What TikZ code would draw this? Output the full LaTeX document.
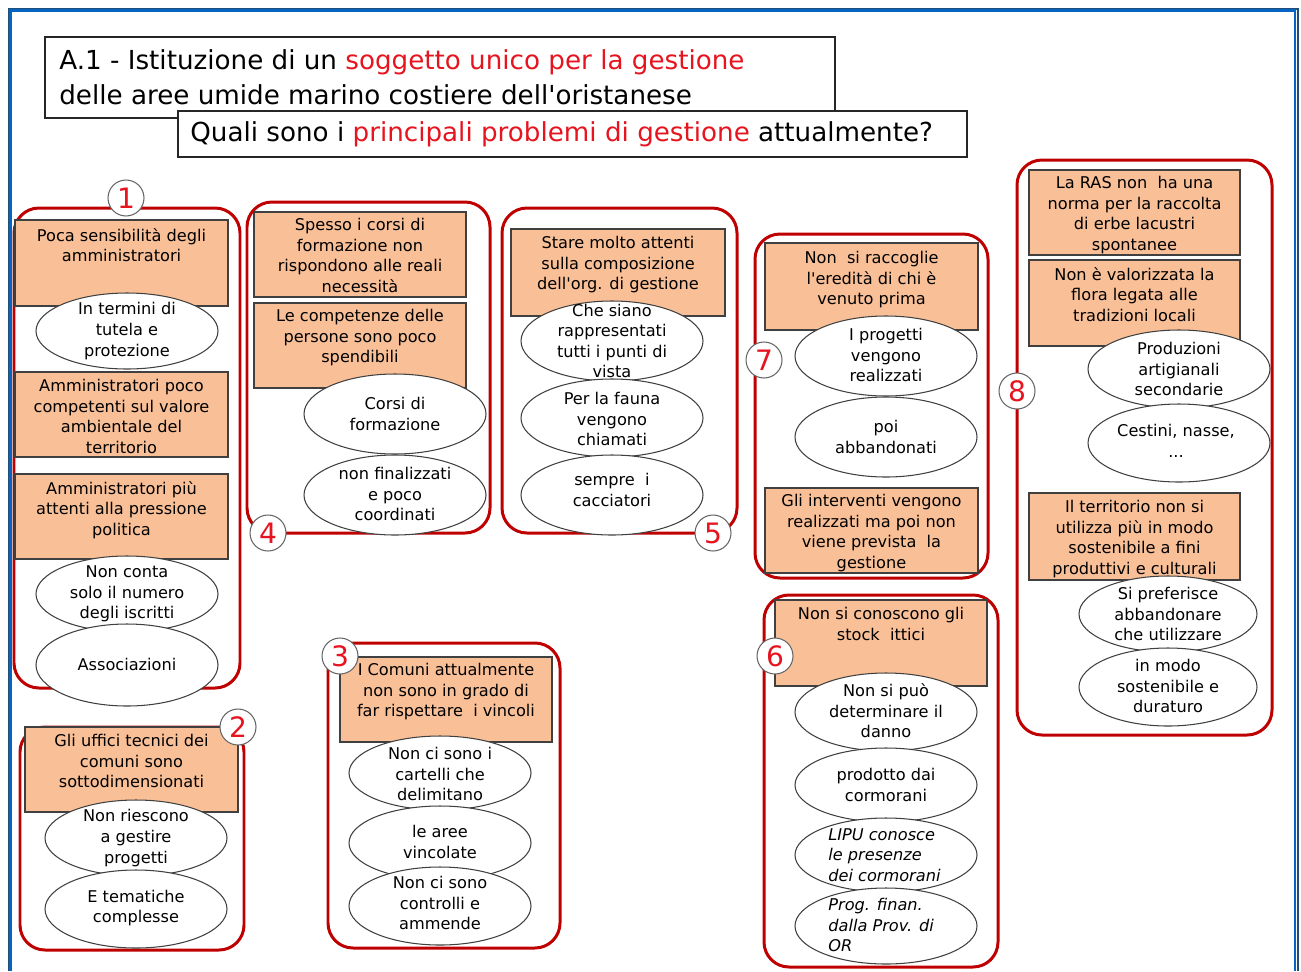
\documentclass[tikz,border=0pt]{standalone}
\usepackage{fontspec}
\setmainfont{DejaVu Sans}
\usetikzlibrary{shapes.geometric,positioning}

\definecolor{boxorange}{RGB}{249,192,152}
\definecolor{groupred}{RGB}{190,0,0}
\definecolor{titlered}{RGB}{230,20,30}
\definecolor{framedark}{RGB}{31,78,121}
\definecolor{framelight}{RGB}{5,99,193}

\tikzset{
  grp/.style={draw=groupred, line width=1.7pt, rounded corners=0.5cm},
  pbox/.style={draw=black!75, line width=0.6pt, fill=boxorange},
  ell/.style={draw=black!75, line width=0.6pt, fill=white},
  txt/.style={align=center, inner sep=0pt, font=\fontsize{9.2}{11.7}\selectfont},
  ptxt/.style={txt, anchor=north},
  itxt/.style={txt, align=left, anchor=west, font=\fontsize{9.2}{11.7}\selectfont\itshape},
  num/.style={circle, draw=black!60, fill=white, line width=0.6pt, minimum size=0.72cm, inner sep=0pt,
    text=titlered, font=\fontsize{16}{16}\selectfont},
  ttl/.style={anchor=base west, inner sep=0pt, font=\fontsize{14.9}{19.8}\selectfont}
}

\begin{document}
\begin{tikzpicture}[x=0.02cm,y=-0.02cm]
\useasboundingbox (0,0) rectangle (1301,971);
% frame
\draw[framedark, line width=1.6pt] (9,971) -- (9,9) -- (1298,9) -- (1298,971);
\draw[framelight, line width=1.2pt] (10.5,971) -- (10.5,10.5) -- (1295,10.5) -- (1295,971);

% titles
\draw[black!85, line width=0.7pt, fill=white] (45,37) rectangle (835,118);
\node[ttl] (title1) at (59,69) {A.1 - Istituzione di un \textcolor{titlered}{soggetto unico per la gestione}};
\node[ttl] (title2) at (59,104) {delle aree umide marino costiere dell\textquotesingle oristanese};
\draw[black!85, line width=0.7pt, fill=white] (178,111) rectangle (967,157);
\node[ttl] (quest) at (190,141) {Quali sono i \textcolor{titlered}{principali problemi di gestione} attualmente?};

% red groups
\draw[grp] (14,208) rectangle (240,688);
\draw[grp] (20,727) rectangle (244,950);
\draw[grp] (247,202) rectangle (490,533);
\draw[grp] (328,643) rectangle (560,948);
\draw[grp] (502,208) rectangle (737,533);
\draw[grp] (755,234) rectangle (988,578);
\draw[grp] (764,595) rectangle (998,967);
\draw[grp] (1017,160) rectangle (1272,735);

% group 1
\draw[pbox] (15,220) rectangle (228,306);
\node[ptxt] (g1a) at (121.5,228) {Poca sensibilità degli\\amministratori};
\draw[ell] (127,331) ellipse [x radius=91, y radius=38];
\node[txt] (g1b) at (127,331) {In termini di\\tutela e\\protezione};
\draw[pbox] (15,372) rectangle (228,457);
\node[ptxt] (g1c) at (121.5,379) {Amministratori poco\\competenti sul valore\\ambientale del\\territorio};
\draw[pbox] (15,474) rectangle (228,559);
\node[ptxt] (g1d) at (121.5,481) {Amministratori più\\attenti alla pressione\\politica};
\draw[ell] (127,594) ellipse [x radius=91, y radius=38];
\node[txt] (g1e) at (127,594) {Non conta\\solo il numero\\degli iscritti};
\draw[ell] (127,665) ellipse [x radius=91, y radius=41];
\node[txt] (g1f) at (127,664) {Associazioni};

% group 2
\draw[pbox] (25,727) rectangle (238,812);
\node[ptxt] (g2a) at (131.5,734) {Gli uffici tecnici dei\\comuni sono\\sottodimensionati};
\draw[ell] (136,838) ellipse [x radius=91, y radius=38];
\node[txt] (g2b) at (136,838) {Non riescono\\a gestire\\progetti};
\draw[ell] (136,909) ellipse [x radius=91, y radius=39];
\node[txt] (g2c) at (136,908) {E tematiche\\complesse};

% group 4
\draw[pbox] (254,212) rectangle (466,297);
\node[ptxt] (g4a) at (360,218) {Spesso i corsi di\\formazione non\\rispondono alle reali\\necessità};
\draw[pbox] (254,303) rectangle (466,388);
\node[ptxt] (g4b) at (360,309) {Le competenze delle\\persone sono poco\\spendibili};
\draw[ell] (395,414) ellipse [x radius=91, y radius=40];
\node[txt] (g4c) at (395,414) {Corsi di\\formazione};
\draw[ell] (395,495) ellipse [x radius=91, y radius=40];
\node[txt] (g4d) at (395,494) {non finalizzati\\e poco\\coordinati};

% group 3
\draw[pbox] (340,657) rectangle (552,742);
\node[ptxt] (g3a) at (446,663) {I Comuni attualmente\\non sono in grado di\\far rispettare \ i vincoli};
\draw[ell] (440,773) ellipse [x radius=91, y radius=37];
\node[txt] (g3b) at (440,774) {Non ci sono i\\cartelli che\\delimitano};
\draw[ell] (440,843) ellipse [x radius=91, y radius=37];
\node[txt] (g3c) at (440,842) {le aree\\vincolate};
\draw[ell] (440,906) ellipse [x radius=91, y radius=39];
\node[txt] (g3d) at (440,903) {Non ci sono\\controlli e\\ammende};

% group 5
\draw[pbox] (511,229) rectangle (725,316);
\node[ptxt] (g5a) at (618,236) {Stare molto attenti\\sulla composizione\\dell\textquotesingle org. di gestione};
\draw[ell] (612,341) ellipse [x radius=91, y radius=40];
\node[txt] (g5b) at (612,341) {Che siano\\rappresentati\\tutti i punti di\\vista};
\draw[ell] (612,418) ellipse [x radius=91, y radius=39];
\node[txt] (g5c) at (612,419) {Per la fauna\\vengono\\chiamati};
\draw[ell] (612,495) ellipse [x radius=91, y radius=40];
\node[txt] (g5d) at (612,490) {sempre \ i\\cacciatori};

% group 7
\draw[pbox] (765,243) rectangle (978,330);
\node[ptxt] (g7a) at (871.5,251) {Non \ si raccoglie\\l\textquotesingle eredità di chi è\\venuto prima};
\draw[ell] (886,356) ellipse [x radius=91, y radius=40];
\node[txt] (g7b) at (886,355) {I progetti\\vengono\\realizzati};
\draw[ell] (886,437) ellipse [x radius=91, y radius=40];
\node[txt] (g7c) at (886,437) {poi\\abbandonati};
\draw[pbox] (765,488) rectangle (978,573);
\node[ptxt] (g7d) at (871.5,494) {Gli interventi vengono\\realizzati ma poi non\\viene prevista \ la\\gestione};

% group 6
\draw[pbox] (775,600) rectangle (987,686);
\node[ptxt] (g6a) at (881,607) {Non si conoscono gli\\stock \ ittici};
\draw[ell] (886,712) ellipse [x radius=91, y radius=39];
\node[txt] (g6b) at (886,711) {Non si può\\determinare il\\danno};
\draw[ell] (886,785) ellipse [x radius=91, y radius=37];
\node[txt] (g6c) at (886,785) {prodotto dai\\cormorani};
\draw[ell] (886,855) ellipse [x radius=91, y radius=37];
\node[itxt] (g6d) at (828,855) {LIPU conosce\\le presenze\\dei cormorani};
\draw[ell] (886,926) ellipse [x radius=91, y radius=38];
\node[itxt] (g6e) at (828,925) {Prog. finan.\\dalla Prov. di\\OR};

% group 8
\draw[pbox] (1029,170) rectangle (1240,255);
\node[ptxt] (g8a) at (1134.5,176) {La RAS non \ ha una\\norma per la raccolta\\di erbe lacustri\\spontanee};
\draw[pbox] (1029,260) rectangle (1240,346);
\node[ptxt] (g8b) at (1134.5,267) {Non è valorizzata la\\flora legata alle\\tradizioni locali};
\draw[ell] (1179,369) ellipse [x radius=91, y radius=39];
\node[txt] (g8c) at (1179,369) {Produzioni\\artigianali\\secondarie};
\draw[ell] (1179,443) ellipse [x radius=91, y radius=39];
\node[txt] (g8d) at (1176,441) {Cestini, nasse,\\...};
\draw[pbox] (1029,493) rectangle (1240,580);
\node[ptxt] (g8e) at (1134.5,500) {Il territorio non si\\utilizza più in modo\\sostenibile a fini\\produttivi e culturali};
\draw[ell] (1168,614) ellipse [x radius=89, y radius=38];
\node[txt] (g8f) at (1168,614) {Si preferisce\\abbandonare\\che utilizzare};
\draw[ell] (1168,687) ellipse [x radius=89, y radius=39];
\node[txt] (g8g) at (1168,686) {in modo\\sostenibile e\\duraturo};

% numbers
\node[num] (n1) at (126,198) {1};
\node[num] (n2) at (238,727) {2};
\node[num] (n3) at (340,656) {3};
\node[num] (n4) at (268,533) {4};
\node[num] (n5) at (713,533) {5};
\node[num] (n6) at (775,656) {6};
\node[num] (n7) at (764,360) {7};
\node[num] (n8) at (1017,391) {8};
\end{tikzpicture}
\end{document}
